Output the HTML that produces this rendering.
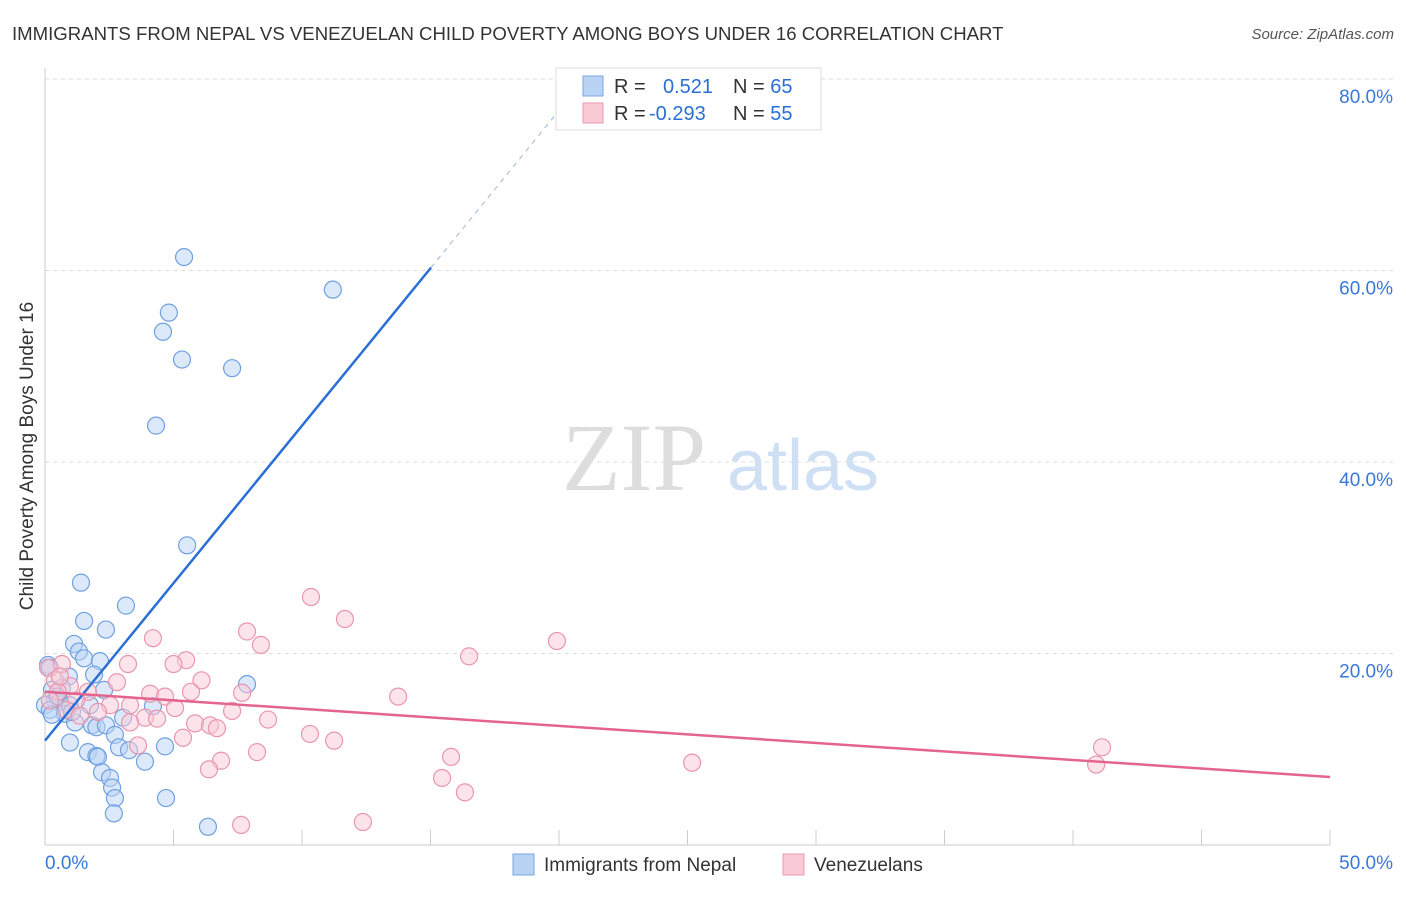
<!DOCTYPE html>
<html><head><meta charset="utf-8"><style>
body{margin:0;background:#fff;font-family:"Liberation Sans",sans-serif}
</style></head><body>
<svg id="c" width="1406" height="892" xmlns="http://www.w3.org/2000/svg">
<text x="12" y="40" font-size="18.6" fill="#333">IMMIGRANTS FROM NEPAL VS VENEZUELAN CHILD POVERTY AMONG BOYS UNDER 16 CORRELATION CHART</text>
<text x="1394" y="39" font-size="15" fill="#555" font-style="italic" text-anchor="end">Source: ZipAtlas.com</text>
<text x="33" y="456" font-size="19" fill="#333" text-anchor="middle" transform="rotate(-90 33 456)">Child Poverty Among Boys Under 16</text>
<g><text x="634" y="490" font-size="96" fill="#ddd" font-family="Liberation Serif,serif" text-anchor="middle">ZIP</text><text x="803" y="490" font-size="72" fill="#cfe0f5" text-anchor="middle">atlas</text></g>
<g id="grid"></g><g id="marks"></g>
<g>
<rect x="556" y="68" width="265" height="62" fill="#fff" stroke="#ddd"/>
<rect x="583" y="76" width="20" height="20" fill="#b9d3f5" stroke="#7aa6e0"/>
<rect x="583" y="103" width="20" height="20" fill="#f9c9d6" stroke="#e99ab0"/>
<text x="614" y="93" font-size="20" fill="#333">R = <tspan x="663" fill="#2a6fd6">0.521</tspan><tspan x="733">N = </tspan><tspan fill="#2a6fd6">65</tspan></text>
<text x="614" y="120" font-size="20" fill="#333">R = <tspan x="649" fill="#2a6fd6">-0.293</tspan><tspan x="733">N = </tspan><tspan fill="#2a6fd6">55</tspan></text>
</g>
<g>
<rect x="513" y="854" width="21" height="21" fill="#b9d3f5" stroke="#7aa6e0"/>
<text x="544" y="871" font-size="19" fill="#333">Immigrants from Nepal</text>
<rect x="783" y="854" width="21" height="21" fill="#f9c9d6" stroke="#e99ab0"/>
<text x="814" y="871" font-size="19" fill="#333">Venezuelans</text>
</g>
</svg>
<script>
const xTicks=[0,5,10,15,20,25,30,35,40,45,50];
const yTicks=[20,40,60,80];
const nepalX=[5.41,11.2,4.82,4.59,5.33,7.28,4.32,5.53,1.40,3.15,1.52,2.37,1.13,1.32,1.52,2.14,0.12,0.93,1.91,2.30,7.86,0.66,0.27,0.39,0.58,0,0.19,0.78,1.75,4.2,3.04,1.17,1.83,2.0,2.37,2.72,0.97,2.88,3.27,4.67,1.67,2.0,2.06,3.89,2.22,2.53,2.61,2.72,4.71,2.68,6.34,0.19,0.5,0.97,1.05,0.27];
const nepalY=[61.4,58.0,55.6,53.6,50.7,49.8,43.8,31.3,27.4,25.0,23.4,22.5,21.0,20.2,19.5,19.2,18.8,17.6,17.8,16.2,16.8,16.4,16.2,15.1,14.9,14.6,14.1,13.7,14.6,14.5,13.3,12.8,12.5,12.3,12.5,11.5,10.7,10.2,9.9,10.3,9.7,9.3,9.2,8.7,7.6,7.0,6.0,4.9,4.9,3.3,1.9,18.5,15.5,14.6,13.9,13.6];
const venX=[10.35,11.67,19.92,4.2,7.86,8.4,16.5,5.49,5.0,3.23,6.09,2.8,5.68,4.09,4.67,7.67,13.74,1.67,1.21,2.53,3.31,5.06,7.28,3.89,4.36,3.31,8.68,5.84,6.42,6.69,10.31,5.37,11.25,3.62,41.13,8.25,15.8,6.85,6.38,25.18,40.9,15.45,16.34,7.63,12.37,0.12,0.66,0.39,0.97,0.5,0.19,0.82,1.36,2.06,0.58];
const venY=[25.9,23.6,21.3,21.6,22.3,20.9,19.7,19.3,18.9,18.9,17.2,17.0,16.0,15.8,15.5,15.9,15.5,16.0,15.1,14.6,14.6,14.3,14.0,13.3,13.2,12.8,13.1,12.7,12.5,12.2,11.6,11.2,10.9,10.4,10.2,9.7,9.2,8.8,7.9,8.6,8.4,7.0,5.5,2.1,2.4,18.5,18.9,17.2,16.6,16.0,15.1,14.1,13.5,13.9,17.6];
const nepalTrend=[[0,10.9],[15.02,60.3],[21,80]];
const venTrend=[[0,16.0],[50,7.1]];
const X=v=>45+v*25.7, Y=v=>845-v*9.575;
const NS='http://www.w3.org/2000/svg';
function mk(t,a,p){const e=document.createElementNS(NS,t);for(const k in a)e.setAttribute(k,a[k]);p.appendChild(e);return e;}
const g=document.getElementById('grid'),m=document.getElementById('marks');
let ax=mk('line',{x1:45,y1:68,x2:45,y2:845,stroke:'#ccc'},g);


let bx=mk('line',{x1:45,y1:845,x2:1330,y2:845,stroke:'#ccc'},g);


yTicks.forEach(v=>{const l=mk('line',{x1:45,x2:1395,y1:Y(v),y2:Y(v),stroke:'#ddd','stroke-dasharray':'4,4'},g);


const t=mk('text',{x:1393,y:Y(v)+24,'font-size':19,fill:'#3a78d8','text-anchor':'end'},g);t.textContent=v.toFixed(1)+'%';

});
xTicks.forEach(v=>{const l=mk('line',{x1:X(v),x2:X(v),y1:830,y2:845,stroke:'#ccc'},g);

});
[[0,'0.0%','start',45],[50,'50.0%','end',1393]].forEach(([v,s,a,x])=>{const t=mk('text',{x:x,y:869,'font-size':19,fill:'#3a78d8','text-anchor':a},g);t.textContent=s;

});
function dots(xs,ys,f,s,name){xs.forEach((x,i)=>{const c=mk('circle',{cx:X(x),cy:Y(ys[i]),r:8.5,fill:f,'fill-opacity':0.5,stroke:s,'stroke-width':1.2},m);

});}
dots(nepalX,nepalY,'#b9d3f5','#6fa0e0','nepal-point');
dots(venX,venY,'#f9c9d6','#e896ae','venezuelan-point');
let l1=mk('line',{x1:X(nepalTrend[0][0]),y1:Y(nepalTrend[0][1]),x2:X(nepalTrend[1][0]),y2:Y(nepalTrend[1][1]),stroke:'#2a6fd6','stroke-width':2.5},m);


let l2=mk('line',{x1:X(nepalTrend[1][0]),y1:Y(nepalTrend[1][1]),x2:X(nepalTrend[2][0]),y2:Y(nepalTrend[2][1]),stroke:'#9bb8e0','stroke-width':1,'stroke-dasharray':'5,5'},m);


let l3=mk('line',{x1:X(venTrend[0][0]),y1:Y(venTrend[0][1]),x2:X(venTrend[1][0]),y2:Y(venTrend[1][1]),stroke:'#e4648e','stroke-width':2.5},m);


</script>
</body></html>
